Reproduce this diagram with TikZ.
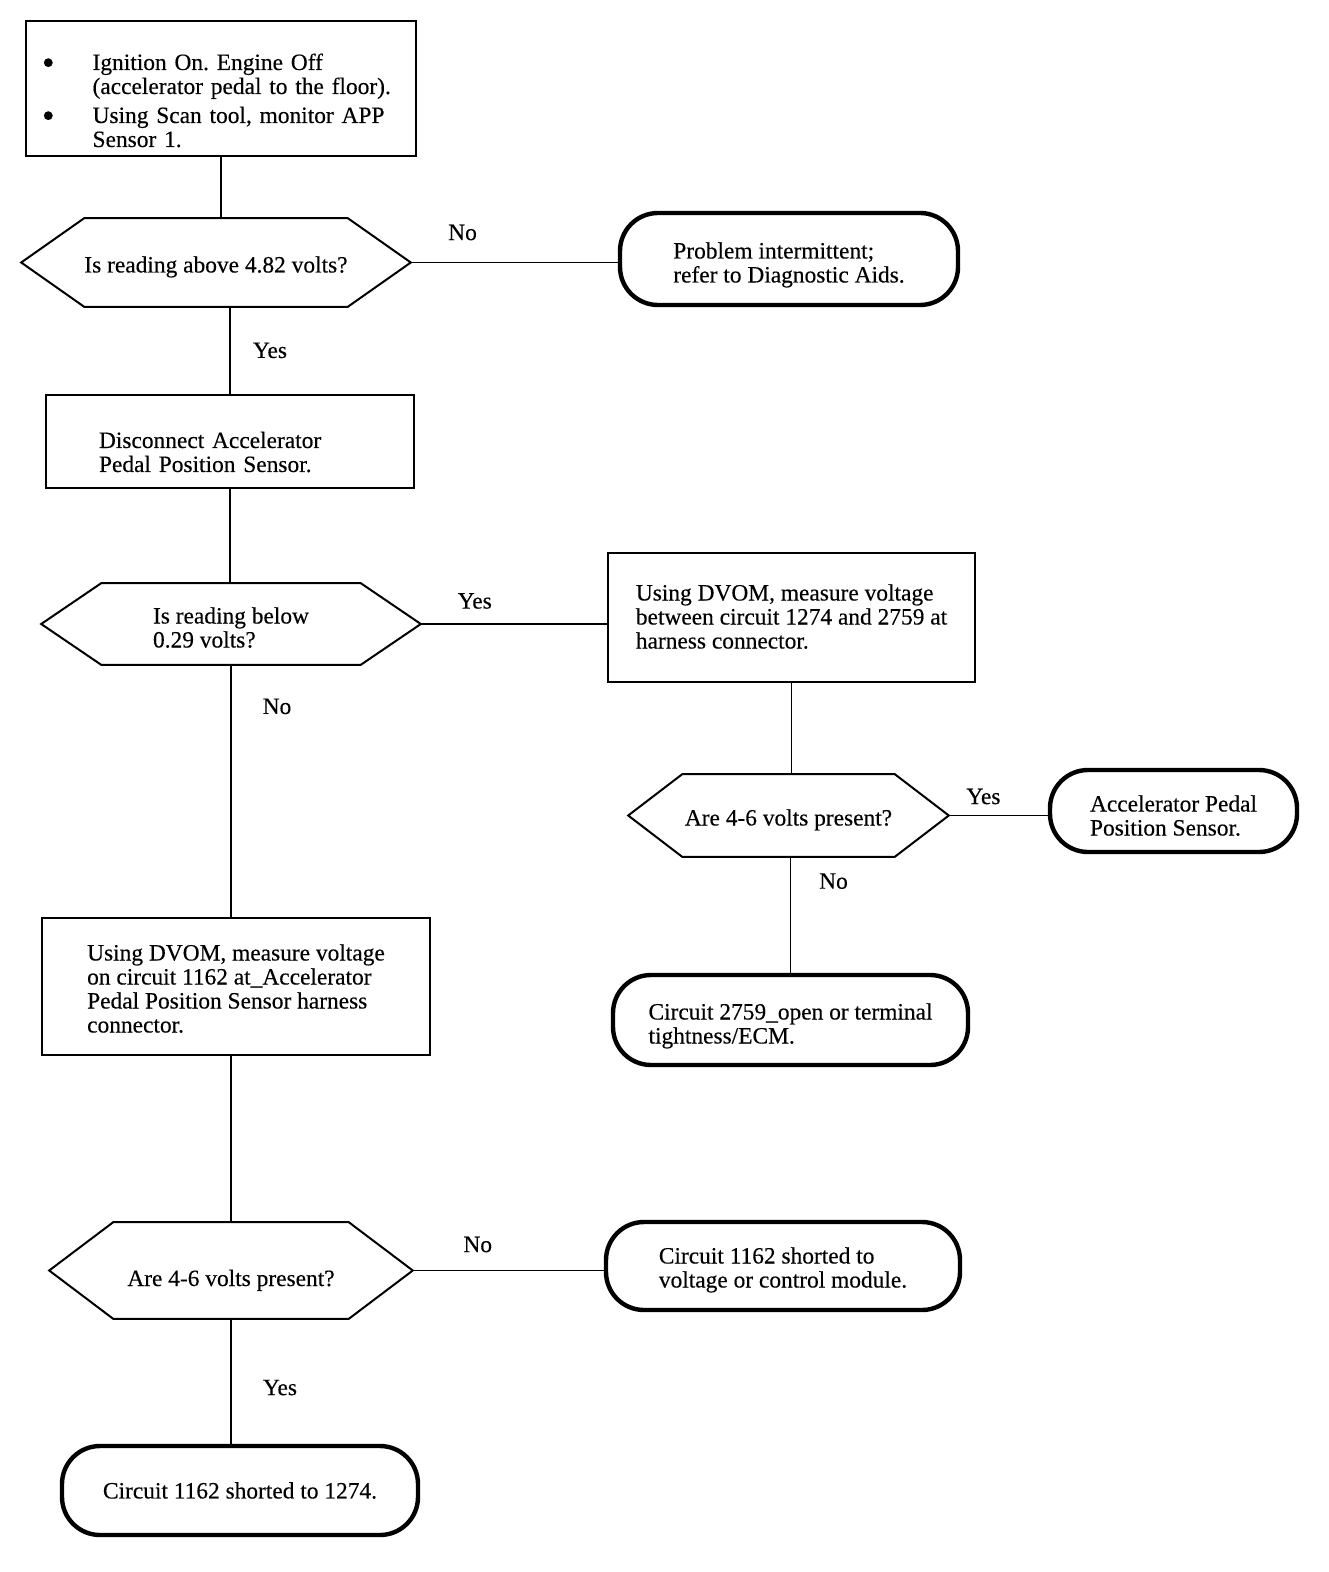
\documentclass[tikz,border=0pt]{standalone}
\usepackage{fontspec}
\setmainfont{Liberation Serif}[FakeBold=0.3]
\usetikzlibrary{calc}
% outline of a decision node: points left and right
\newcommand{\hexoutline}[2]{%
  \draw[line width=1pt] (#1.west) -- ($(#1.north west)+(#2,0)$) -- ($(#1.north east)-(#2,0)$)
    -- (#1.east) -- ($(#1.south east)-(#2,0)$) -- ($(#1.south west)+(#2,0)$) -- cycle;}
\newcommand{\dotitem}{\raisebox{-2.3pt}{\fontsize{18}{12}\selectfont\textbullet}}
\begin{document}
\begin{tikzpicture}[x=0.5pt,y=-0.5pt,line width=0.8pt,
    every node/.style={font=\fontsize{11.7}{12}\selectfont\frenchspacing},
    stepbox/.style={rectangle,draw,line width=1pt,align=left,inner sep=0pt},
    endbox/.style={rectangle,draw,line width=2.2pt,rounded corners=19pt,align=left,inner sep=0pt},
    decision/.style={rectangle,inner sep=0pt,align=left},
    answer/.style={inner sep=0pt}]
  \useasboundingbox (0,0) rectangle (1328,1572);
  % steps
  \node[stepbox,text width=179pt,inner xsep=8pt,text height=24.5pt,text depth=43pt] (start) at (221,88.5)
    {\begin{tabular}[t]{@{}l@{\hspace{19pt}}l@{}}
      \dotitem & Ignition On. Engine Off\\
               & (accelerator pedal to the floor).\\[2.5pt]
      \dotitem & Using Scan tool, monitor APP\\
               & Sensor 1.
     \end{tabular}};
  \node[decision,minimum width=194pt,text height=26.75pt,text depth=16.75pt] (above) at (216,262.5) {Is reading above 4.82 volts?};
  \hexoutline{above}{63}
  \node[endbox,minimum width=169pt,text height=34.75pt,text depth=11.25pt] (intermittent) at (789,259)
    {Problem intermittent;\\refer to Diagnostic Aids.};
  \node[stepbox,text width=131pt,inner xsep=26.5pt,text height=26.5pt,text depth=20pt] (disconnect) at (230,441.5)
    {Disconnect Accelerator\\Pedal Position Sensor.};
  \node[decision,minimum width=189pt,text height=31.75pt,text depth=8.25pt] (below) at (231,624) {Is reading below\\0.29 volts?};
  \hexoutline{below}{60}
  \node[stepbox,minimum width=183.5pt,text height=47.75pt,text depth=16.75pt] (between) at (791.5,617.5)
    {Using DVOM, measure voltage\\between circuit 1274 and 2759 at\\harness connector.};
  \node[decision,minimum width=159.5pt,text height=25.25pt,text depth=15.25pt] (present1) at (788.5,815.5) {Are 4-6 volts present?};
  \hexoutline{present1}{54}
  \node[endbox,minimum width=123.5pt,text height=32.75pt,text depth=8.25pt] (sensor) at (1173.5,811)
    {Accelerator Pedal\\Position Sensor.};
  \node[endbox,minimum width=177.5pt,text height=34.25pt,text depth=10.75pt] (open) at (790.5,1020)
    {Circuit 2759\_open or terminal\\tightness/ECM.};
  \node[stepbox,minimum width=194pt,text height=57.25pt,text depth=11.25pt] (circuit) at (236,986.5)
    {Using DVOM, measure voltage\\on circuit 1162 at\_Accelerator\\Pedal Position Sensor harness\\connector.};
  \node[decision,minimum width=181pt,text height=31.5pt,text depth=16pt] (present2) at (231,1270.5) {Are 4-6 volts present?};
  \hexoutline{present2}{64}
  \node[endbox,minimum width=177pt,text height=32.75pt,text depth=11.25pt] (voltage) at (783,1266)
    {Circuit 1162 shorted to\\voltage or control module.};
  \node[endbox,minimum width=178pt,minimum height=44.5pt] (shorted) at (240,1490.5)
    {Circuit 1162 shorted to 1274.};
  % connectors
  \draw (start.south) -- (start.south |- above.north);
  \draw (above.east) -- (above.east -| intermittent.west) node[answer,pos=.25,yshift=15pt]{No};
  \draw (above.south -| disconnect.north) -- (disconnect.north) node[answer,pos=.5,xshift=20pt]{Yes};
  \draw (disconnect.south) -- (disconnect.south |- below.north);
  \draw (below.east) -- (below.east -| between.west) node[answer,pos=.29,yshift=11.5pt]{Yes};
  \draw (between.south) -- (between.south |- present1.north);
  \draw (present1.east) -- (present1.east -| sensor.west) node[answer,pos=.35,yshift=9.5pt]{Yes};
  \draw (present1.south -| open.north) -- (open.north) node[answer,pos=.21,xshift=21.5pt]{No};
  \draw (below.south) -- (below.south |- circuit.north) node[answer,pos=.165,xshift=23pt]{No};
  \draw (circuit.south -| present2.north) -- (present2.north);
  \draw (present2.east) -- (present2.east -| voltage.west) node[answer,pos=.34,yshift=13pt]{No};
  \draw (present2.south) -- (present2.south |- shorted.north) node[answer,pos=.55,xshift=24.5pt]{Yes};
\end{tikzpicture}
\end{document}
